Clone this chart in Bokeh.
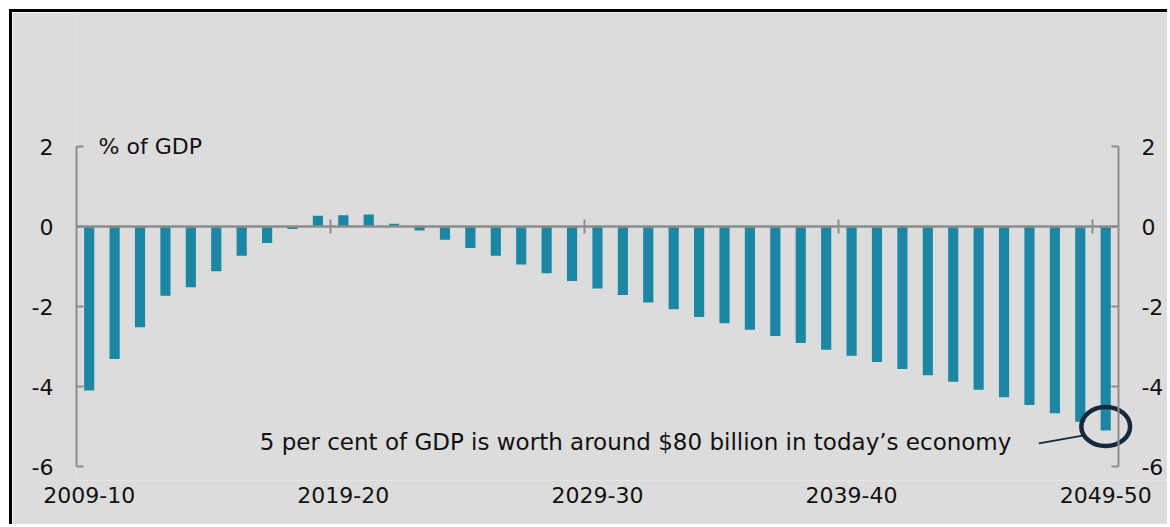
from bokeh.plotting import figure
from bokeh.models import Range1d, LinearAxis, FixedTicker, Label
from bokeh.embed import file_html
from bokeh.resources import INLINE

# ---- data ----
start_years = list(range(2009, 2050))
years = [f"{y}-{(y + 1) % 100:02d}" for y in start_years]
balance = [-4.10, -3.31, -2.52, -1.73, -1.52, -1.12, -0.73, -0.41, -0.06, 0.27,
           0.28, 0.30, 0.07, -0.10, -0.33, -0.54, -0.73, -0.95, -1.17, -1.36,
           -1.55, -1.71, -1.90, -2.07, -2.26, -2.42, -2.58, -2.74, -2.91, -3.08,
           -3.23, -3.39, -3.56, -3.72, -3.88, -4.08, -4.27, -4.46, -4.67, -4.88, -5.10]
y_ticks = [-6, -4, -2, 0, 2]
label_step = 10
unit_label = "% of GDP"
note_text = "5 per cent of GDP is worth around $80 billion in today\u2019s economy"
note_value = -5

FONT = "DejaVu Sans"
BAR = "#1B87A2"
AXIS = "#8c8c8c"
NAVY = "#15283c"
BG = "#dcdcdc"
TXT = "#111111"

xs = list(range(len(years)))
x_lo, x_hi = -0.5, len(years) - 0.5
y_lo, y_hi = y_ticks[0], y_ticks[-1]

# frame extends past the axes so annotations and fixed axes are not clipped
p = figure(width=1158, height=515, output_backend="svg", toolbar_location=None,
           x_range=Range1d(x_lo, 42.55), y_range=Range1d(-6.35, 5.35),
           x_axis_location=None, y_axis_location=None,
           min_border_left=64, min_border_right=0, min_border_top=0, min_border_bottom=47,
           background_fill_color=BG, border_fill_color=BG,
           margin=(9, 0, 0, 9),
           styles={"border-top": "3px solid black", "border-left": "3px solid black"})
p.outline_line_color = None
for g in p.grid:
    g.visible = False

p.vbar(x=xs, top=balance, bottom=0, width=0.4, fill_color=BAR, line_color=None)

def yaxis(**kw):
    ax = LinearAxis(ticker=FixedTicker(ticks=y_ticks), bounds=(y_lo, y_hi), **kw)
    ax.major_label_overrides = {t: str(t) for t in y_ticks}
    ax.axis_line_color = AXIS
    ax.axis_line_width = 2
    ax.major_tick_line_color = AXIS
    ax.major_tick_line_width = 2
    ax.major_tick_in = 7
    ax.major_tick_out = 0
    ax.minor_tick_line_color = None
    ax.major_label_text_font = FONT
    ax.major_label_text_font_size = "22px"
    ax.major_label_text_color = TXT
    ax.major_label_standoff = 23
    return ax

p.add_layout(yaxis(), "left")
p.add_layout(yaxis(fixed_location=x_hi), "right")

# zero line with boundary ticks
zero_ax = LinearAxis(ticker=FixedTicker(ticks=[i - 0.5 for i in range(label_step, len(years), label_step)]),
                     fixed_location=0, bounds=(x_lo, x_hi))
zero_ax.axis_line_color = AXIS
zero_ax.axis_line_width = 2.5
zero_ax.major_tick_line_color = AXIS
zero_ax.major_tick_line_width = 2
zero_ax.major_tick_in = 7
zero_ax.major_tick_out = 7
zero_ax.minor_tick_line_color = None
zero_ax.major_label_text_color = None
p.add_layout(zero_ax, "above")

# category labels at bottom
lab_idx = list(range(0, len(years), label_step))
bot_ax = LinearAxis(ticker=FixedTicker(ticks=lab_idx))
bot_ax.major_label_overrides = {i: years[i] for i in lab_idx}
bot_ax.axis_line_color = None
bot_ax.major_tick_line_color = None
bot_ax.minor_tick_line_color = None
bot_ax.major_label_text_font = FONT
bot_ax.major_label_text_font_size = "22px"
bot_ax.major_label_text_color = TXT
bot_ax.major_label_standoff = 0
p.add_layout(bot_ax, "below")

p.add_layout(Label(x=0.37, y=y_hi, text=unit_label, text_font=FONT, text_font_size="22px",
                   text_color=TXT, text_baseline="middle", text_align="left"))

last = len(years) - 1
p.ellipse(x=[last], y=[note_value], width=1.92, height=0.98, fill_color=None,
          line_color=NAVY, line_width=4.5)
p.segment(x0=[last - 2.63], y0=[note_value - 0.42], x1=[last - 0.85], y1=[note_value - 0.22],
          line_color=NAVY, line_width=1.8)
p.add_layout(Label(x=21.5, y=note_value - 0.39, text=note_text, text_font=FONT, text_font_size="23px",
                   text_color=TXT, text_baseline="middle", text_align="center"))

open("out.html", "w").write(file_html(p, INLINE))
